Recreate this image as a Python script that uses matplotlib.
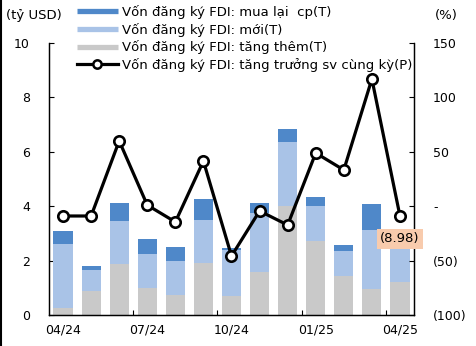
import matplotlib
matplotlib.use("Agg")
import matplotlib.pyplot as plt
from matplotlib.lines import Line2D
import numpy as np

plt.rcParams['font.family'] = ['DejaVu Sans']

months = ['04/24', '05/24', '06/24', '07/24', '08/24', '09/24', '10/24',
          '11/24', '12/24', '01/25', '02/25', '03/25', '04/25']
tang_them = [0.27, 0.88, 1.89, 0.98, 0.74, 1.92, 0.70, 1.58, 4.02, 2.72, 1.43, 0.96, 1.20]
moi = [2.35, 0.77, 1.57, 1.27, 1.25, 1.57, 1.69, 2.16, 2.35, 1.28, 0.92, 2.16, 1.60]
mua_lai = [0.47, 0.15, 0.66, 0.54, 0.51, 0.77, 0.07, 0.39, 0.47, 0.35, 0.22, 0.96, 0.15]
growth = [-9.0, -9.0, 60.0, 1.0, -14.5, 41.5, -45.8, -4.4, -17.3, 48.9, 33.3, 116.9, -8.98]

label_mua = 'Vốn đăng ký FDI: mua lại  cp(T)'
label_moi = 'Vốn đăng ký FDI: mới(T)'
label_tang = 'Vốn đăng ký FDI: tăng thêm(T)'
label_gr = 'Vốn đăng ký FDI: tăng trưởng sv cùng kỳ(P)'
last_label = '(8.98)'

c_dark = '#4F88C9'
c_light = '#A9C3E7'
c_gray = '#C9C9C9'

fig = plt.figure(figsize=(4.77, 3.46), dpi=100)
ax = fig.add_axes([49/477, 1-315/346, (414-49)/477, (315-43)/346])
ax2 = ax.twinx()

x = np.arange(len(months))
w = 0.68
b1 = np.array(tang_them)
b2 = b1 + np.array(moi)
ax.bar(x, tang_them, width=w, color=c_gray, zorder=2)
ax.bar(x, moi, bottom=b1, width=w, color=c_light, zorder=2)
ax.bar(x, mua_lai, bottom=b2, width=w, color=c_dark, zorder=2)

ax.set_xlim(-0.5, len(months) - 0.5)
ax.set_ylim(0, 10)
ax.set_yticks([0, 2, 4, 6, 8, 10])
ax.set_yticklabels(['0', '2', '4', '6', '8', '10'])
ax.set_xticks(x[::3])
ax.set_xticklabels(months[::3])
ax.set_xticks([2.5, 5.5, 8.5, 11.5], minor=True)
ax.tick_params(axis='x', which='major', length=0, labelsize=9, pad=6)
ax.tick_params(axis='x', which='minor', direction='in', length=3.5, width=0.8)
ax.tick_params(axis='y', direction='in', length=3.5, width=0.8, labelsize=9, pad=13.7)

ax2.plot(x, growth, color='black', lw=2.3, marker='o', ms=7.5, mfc='white',
         mec='black', mew=1.9, zorder=5)
ax2.set_ylim(-100, 150)
rt = [-100, -50, 0, 50, 100, 150]
ax2.set_yticks(rt)
ax2.set_yticklabels(['(100)', '(50)', '-', '50', '100', '150'])
ax2.tick_params(axis='y', direction='in', length=3.5, width=0.8, labelsize=9, pad=13.7)

for a in (ax, ax2):
    a.spines['top'].set_visible(False)
    for s in ('left', 'right', 'bottom'):
        a.spines[s].set_linewidth(0.9)

ax2.annotate(last_label, xy=(x[-1], growth[-1]), xytext=(0, -23),
             textcoords='offset pixels', ha='center', va='center', fontsize=9.5,
             bbox=dict(boxstyle='square,pad=0.25', fc='#F8CBAD', ec='none'),
             zorder=6, annotation_clip=False)

fig.text(6/477, 1-15/346, '(tỷ USD)', fontsize=9.5, va='center', ha='left')
fig.text(435/477, 1-15/346, '(%)', fontsize=9.5, va='center', ha='left')

handles = [Line2D([], [], color=c_dark, lw=3.8, solid_capstyle='butt'),
           Line2D([], [], color=c_light, lw=3.8, solid_capstyle='butt'),
           Line2D([], [], color=c_gray, lw=3.8, solid_capstyle='butt'),
           Line2D([], [], color='black', lw=2.3, marker='o', ms=6, mfc='white',
                  mec='black', mew=1.8)]
fig.legend(handles, [label_mua, label_moi, label_tang, label_gr],
           loc='upper left', bbox_to_anchor=(77/477, 1-5/346), frameon=False,
           fontsize=9.5, handlelength=3.1, handletextpad=0.3, labelspacing=0.28,
           borderpad=0, borderaxespad=0, numpoints=1)

fig.add_artist(Line2D([0.0015, 0.0015], [0, 1], color='black', lw=1.5,
                      transform=fig.transFigure))

fig.savefig('out.png', dpi=100)
